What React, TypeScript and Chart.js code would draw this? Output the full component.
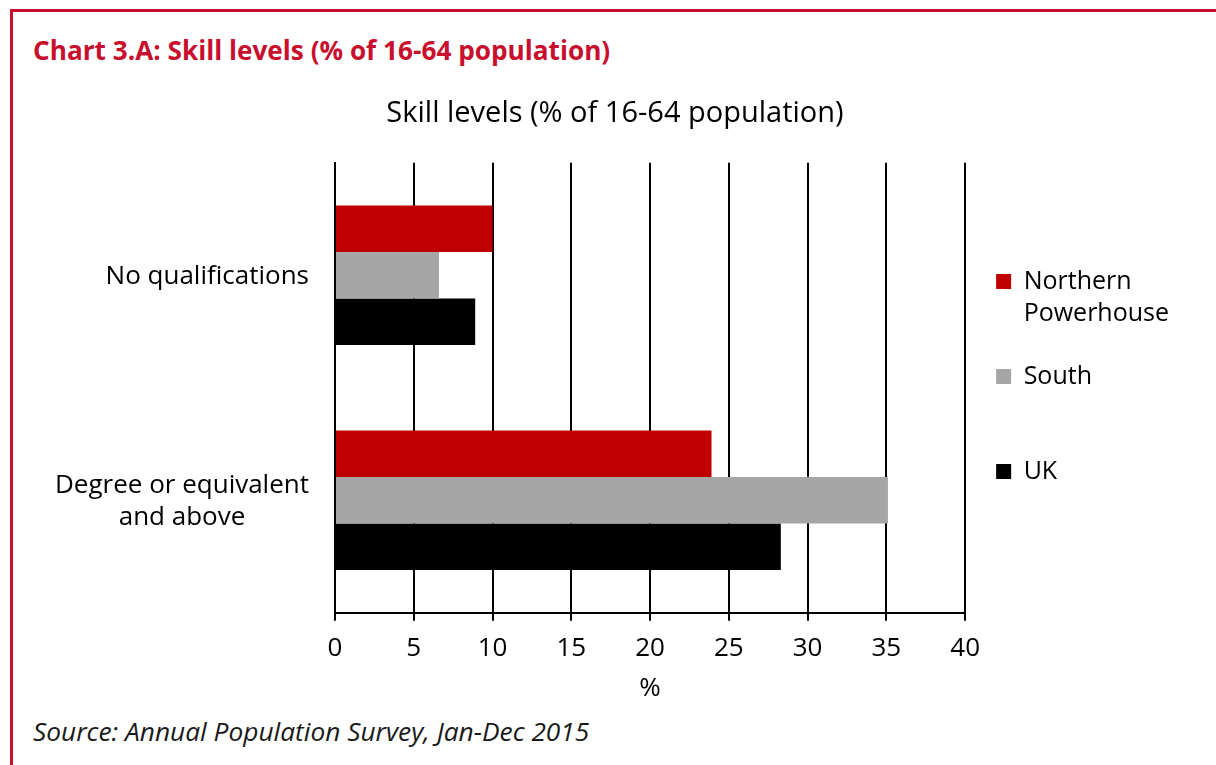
import React, { useEffect, useRef } from 'react';
import { Chart, registerables } from 'chart.js';

Chart.register(...registerables);

// ---- Data ----
const categories: string[][] = [['No qualifications'], ['Degree or equivalent', 'and above']];
const seriesLabels: string[] = ['Northern Powerhouse', 'South', 'UK'];
const legendLines: string[][] = [['Northern', 'Powerhouse'], ['South', ''], ['UK', '']];
const northernPowerhouse: number[] = [10.0, 23.9];
const south: number[] = [6.6, 35.1];
const uk: number[] = [8.9, 28.3];
const seriesColors: string[] = ['#C00000', '#A6A6A6', '#000000'];
const xMin = 0;
const xMax = 40;
const xStep = 5;
const chartTitle = 'Skill levels (% of 16-64 population)';
const xTitle = '%';
const pageTitle = 'Chart 3.A: Skill levels (% of 16-64 population)';
const sourceNote = 'Source: Annual Population Survey, Jan-Dec 2015';

// ---- Style ----
const FONT = '"Open Sans", sans-serif';
const FS = 26;
const LH = 32;
const RED = '#C8102E';
const CANVAS_LEFT = 51;
const CANVAS_TOP = 80;
const CANVAS_W = 1128;
const CANVAS_H = 632;
const Y_AXIS_W = 284;

const categoryLabelPlugin = {
  id: 'categoryLabels',
  afterDraw(chart: any) {
    const { ctx, chartArea } = chart;
    const yScale = chart.scales.y;
    ctx.save();
    ctx.font = `${FS}px ${FONT}`;
    ctx.fillStyle = '#000';
    ctx.textAlign = 'center';
    ctx.textBaseline = 'middle';
    (chart.data.labels as string[][]).forEach((lines, i) => {
      const yc = yScale.getPixelForValue(i) + 1.5;
      const w = Math.max(...lines.map((l) => ctx.measureText(l).width));
      const xc = chartArea.left - 26 - w / 2;
      lines.forEach((l, j) => ctx.fillText(l, xc, yc + (j - (lines.length - 1) / 2) * LH));
    });
    ctx.restore();
  },
};

function SkillChart() {
  const ref = useRef<HTMLCanvasElement | null>(null);
  useEffect(() => {
    if (!ref.current) return;
    const values = [northernPowerhouse, south, uk];
    const chart = new Chart(ref.current, {
      type: 'bar',
      data: {
        labels: categories as any,
        datasets: seriesLabels.map((label, i) => ({
          label,
          data: values[i],
          backgroundColor: seriesColors[i],
          borderWidth: 0,
          categoryPercentage: 0.62,
          barPercentage: 1.0,
        })),
      },
      options: {
        indexAxis: 'y',
        responsive: false,
        animation: false,
        devicePixelRatio: 1,
        layout: { padding: 0 },
        plugins: {
          tooltip: { enabled: false },
          title: {
            display: true,
            text: chartTitle,
            color: '#000',
            font: { family: FONT, size: 29, weight: 'normal', lineHeight: 1.2 },
            padding: { top: 16, bottom: 32 },
          },
          legend: {
            position: 'right',
            labels: {
              boxWidth: 15,
              boxHeight: 15,
              padding: 31,
              color: '#000',
              font: { family: FONT, size: 25, lineHeight: LH / 25 },
              generateLabels: (c: any) =>
                c.data.datasets.map((ds: any, i: number) => ({
                  text: legendLines[i],
                  fillStyle: ds.backgroundColor,
                  strokeStyle: ds.backgroundColor,
                  lineWidth: 0,
                  hidden: false,
                  datasetIndex: i,
                  fontColor: '#000',
                })),
            },
          },
        },
        scales: {
          x: {
            min: xMin,
            max: xMax,
            ticks: { stepSize: xStep, color: '#000', font: { family: FONT, size: FS }, padding: 12 },
            grid: { color: '#000', lineWidth: 2, tickLength: 8, drawTicks: true },
            border: { display: true, color: '#000', width: 2 },
            title: {
              display: true,
              text: xTitle,
              color: '#000',
              font: { family: FONT, size: FS, lineHeight: 0.5 },
              padding: { top: 6, bottom: 17 },
            },
          },
          y: {
            grid: { display: false, drawTicks: false },
            border: { display: true, color: '#000', width: 2 },
            ticks: { display: false },
            afterFit: (s: any) => {
              s.width = Y_AXIS_W;
            },
          },
        },
      } as any,
      plugins: [categoryLabelPlugin],
    });
    return () => chart.destroy();
  }, []);
  return (
    <canvas
      ref={ref}
      width={CANVAS_W}
      height={CANVAS_H}
      style={{ position: 'absolute', left: CANVAS_LEFT, top: CANVAS_TOP, width: CANVAS_W, height: CANVAS_H }}
    />
  );
}

export default function App() {
  return (
    <div style={{ position: 'absolute', left: 0, top: 0, width: 1216, height: 765, background: '#fff', overflow: 'hidden' }}>
      <div
        style={{
          position: 'absolute',
          left: 10,
          top: 9,
          right: 0,
          bottom: 0,
          borderTop: `3px solid ${RED}`,
          borderLeft: `3px solid ${RED}`,
        }}
      />
      <div
        style={{
          position: 'absolute',
          left: 33,
          top: 35,
          lineHeight: '30px',
          fontFamily: FONT,
          fontWeight: 700,
          fontSize: 26.2,
          color: RED,
          whiteSpace: 'nowrap',
        }}
      >
        {pageTitle}
      </div>
      <SkillChart />
      <div
        style={{
          position: 'absolute',
          left: 33,
          top: 716,
          lineHeight: '30px',
          fontFamily: FONT,
          fontStyle: 'italic',
          fontSize: 26.3,
          color: '#1a1a1a',
          whiteSpace: 'nowrap',
        }}
      >
        {sourceNote}
      </div>
    </div>
  );
}
